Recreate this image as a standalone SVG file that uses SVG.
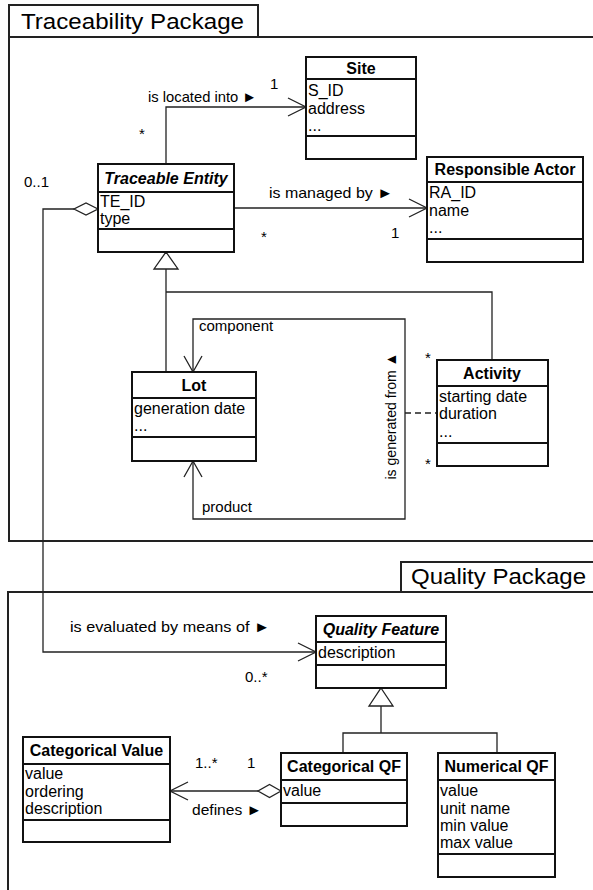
<svg xmlns="http://www.w3.org/2000/svg" width="593" height="890" viewBox="0 0 593 890">
  <style>
    text { font-family: "Liberation Sans", Arial, sans-serif; fill: #000; }
    .pkg { fill: none; stroke: #222; stroke-width: 2; }
    .pkgtitle { font-size: 22px; }
    .box { fill: #fff; stroke: #111; stroke-width: 2; }
    .sep { stroke: #111; stroke-width: 2; }
    .hdr { font-size: 16px; font-weight: bold; text-anchor: middle; }
    .abs { font-style: italic; }
    .attr { font-size: 16px; }
    .lbl { font-size: 15px; }
    .mult { font-size: 15px; }
    .conn { fill: none; stroke: #222; stroke-width: 1.3; }
    .dash { stroke-dasharray: 6 4; }
    .head { fill: none; stroke: #222; stroke-width: 1.3; }
    .tri { fill: #fff; stroke: #222; stroke-width: 1.3; }
  </style>

  <!-- packages -->
  <g id="traceability-package">
    <rect class="pkg" x="9" y="5" width="249" height="32" fill="#fff"/>
    <path class="pkg" d="M593,37 H9 V541 H593"/>
    <text class="pkgtitle" x="21" y="29" textLength="223" lengthAdjust="spacingAndGlyphs">Traceability Package</text>
  </g>
  <g id="quality-package">
    <path class="pkg" d="M401,592 V562 H594"/>
    <path class="pkg" d="M594,592 H8 V891"/>
    <text class="pkgtitle" x="411" y="584" textLength="175" lengthAdjust="spacingAndGlyphs">Quality Package</text>
  </g>

  <!-- connectors -->
  <g id="connectors">
    <!-- is located into -->
    <path class="conn" d="M166,164 V107 H306"/>
    <path class="head" d="M288,98 L306,107 L288,116"/>
    <!-- is managed by -->
    <path class="conn" d="M234,208 H427"/>
    <path class="head" d="M409,199 L427,208 L409,217"/>
    <!-- generalization to Traceable Entity -->
    <path class="conn" d="M166,269 V372 M166,292 H492 V360"/>
    <path class="tri" d="M166,252 L178,269 L154,269 Z"/>
    <!-- component / product loop on Lot -->
    <path class="conn" d="M193,372 V319 H405 V519 H193 V461"/>
    <path class="head" d="M184,356 L193,372 L202,356"/>
    <path class="head" d="M184,477 L193,461 L202,477"/>
    <!-- association class link -->
    <path class="conn dash" d="M405,413 H437"/>
    <!-- is evaluated by means of (aggregation) -->
    <path class="conn" d="M74,209 H43 V652 H316"/>
    <path class="tri" d="M98,209 L86,203 L74,209 L86,215 Z"/>
    <path class="head" d="M298,643 L316,652 L298,661"/>
    <!-- generalization to Quality Feature -->
    <path class="conn" d="M381,706 V733 M343,753 V733 H497 V753"/>
    <path class="tri" d="M381,688 L393,706 L369,706 Z"/>
    <!-- defines (aggregation) -->
    <path class="conn" d="M170,791 H258"/>
    <path class="head" d="M188,782 L170,791 L188,800"/>
    <path class="tri" d="M281,791 L269.5,784.5 L258,791 L269.5,797.5 Z"/>
  </g>

  <!-- association labels and multiplicities -->
  <g id="labels">
    <text class="lbl" x="148" y="102" textLength="109" lengthAdjust="spacingAndGlyphs">is located into ►</text>
    <text class="mult" x="270" y="89">1</text>
    <text class="mult" x="139" y="139">*</text>
    <text class="lbl" x="269" y="198" textLength="124" lengthAdjust="spacingAndGlyphs">is managed by ►</text>
    <text class="mult" x="261" y="242">*</text>
    <text class="mult" x="391" y="238">1</text>
    <text class="mult" x="24" y="187">0..1</text>
    <text class="lbl" x="199" y="331">component</text>
    <text class="lbl" x="202" y="512">product</text>
    <text class="lbl" transform="translate(396,416) rotate(-90)" text-anchor="middle" textLength="127" lengthAdjust="spacingAndGlyphs">is generated from ▲</text>
    <text class="mult" x="425" y="363">*</text>
    <text class="mult" x="425" y="469">*</text>
    <text class="lbl" x="70" y="632" textLength="200" lengthAdjust="spacingAndGlyphs">is evaluated by means of ►</text>
    <text class="mult" x="245" y="682">0..*</text>
    <text class="mult" x="195" y="768">1..*</text>
    <text class="mult" x="247" y="768">1</text>
    <text class="lbl" x="192" y="815" textLength="70" lengthAdjust="spacingAndGlyphs">defines ►</text>
  </g>

  <!-- classes -->
  <g id="site">
    <rect class="box" x="306" y="57" width="110" height="102"/>
    <path class="sep" d="M306,79 H416 M306,136 H416"/>
    <text class="hdr" x="361" y="74">Site</text>
    <text class="attr" x="308" y="96">S_ID</text>
    <text class="attr" x="308" y="114">address</text>
    <text class="attr" x="308" y="131">...</text>
  </g>

  <g id="responsible-actor">
    <rect class="box" x="427" y="157" width="156" height="105"/>
    <path class="sep" d="M427,182 H583 M427,239 H583"/>
    <text class="hdr" x="505" y="175">Responsible Actor</text>
    <text class="attr" x="429" y="198">RA_ID</text>
    <text class="attr" x="429" y="216">name</text>
    <text class="attr" x="429" y="233">...</text>
  </g>

  <g id="traceable-entity">
    <rect class="box" x="98" y="164" width="136" height="88"/>
    <path class="sep" d="M98,192 H234 M98,229 H234"/>
    <text class="hdr abs" x="166" y="184">Traceable Entity</text>
    <text class="attr" x="100" y="207">TE_ID</text>
    <text class="attr" x="100" y="224">type</text>
  </g>

  <g id="lot">
    <rect class="box" x="132" y="372" width="124" height="89"/>
    <path class="sep" d="M132,398 H256 M132,437 H256"/>
    <text class="hdr" x="194" y="391">Lot</text>
    <text class="attr" x="134" y="414">generation date</text>
    <text class="attr" x="134" y="431">...</text>
  </g>

  <g id="activity">
    <rect class="box" x="437" y="360" width="111" height="106"/>
    <path class="sep" d="M437,386 H548 M437,443 H548"/>
    <text class="hdr" x="492" y="379">Activity</text>
    <text class="attr" x="439" y="402">starting date</text>
    <text class="attr" x="439" y="419">duration</text>
    <text class="attr" x="439" y="437">...</text>
  </g>

  <g id="quality-feature">
    <rect class="box" x="316" y="616" width="130" height="72"/>
    <path class="sep" d="M316,642 H446 M316,665 H446"/>
    <text class="hdr abs" x="381" y="635">Quality Feature</text>
    <text class="attr" x="318" y="658">description</text>
  </g>

  <g id="categorical-value">
    <rect class="box" x="23" y="737" width="147" height="105"/>
    <path class="sep" d="M23,764 H170 M23,820 H170"/>
    <text class="hdr" x="96.5" y="756">Categorical Value</text>
    <text class="attr" x="25" y="779">value</text>
    <text class="attr" x="25" y="797">ordering</text>
    <text class="attr" x="25" y="814">description</text>
  </g>

  <g id="categorical-qf">
    <rect class="box" x="281" y="753" width="126" height="73"/>
    <path class="sep" d="M281,780 H407 M281,803 H407"/>
    <text class="hdr" x="344" y="772">Categorical QF</text>
    <text class="attr" x="283" y="796">value</text>
  </g>

  <g id="numerical-qf">
    <rect class="box" x="438" y="753" width="117" height="124"/>
    <path class="sep" d="M438,780 H555 M438,854 H555"/>
    <text class="hdr" x="496.5" y="772">Numerical QF</text>
    <text class="attr" x="440" y="796">value</text>
    <text class="attr" x="440" y="814">unit name</text>
    <text class="attr" x="440" y="831">min value</text>
    <text class="attr" x="440" y="848">max value</text>
  </g>
</svg>
